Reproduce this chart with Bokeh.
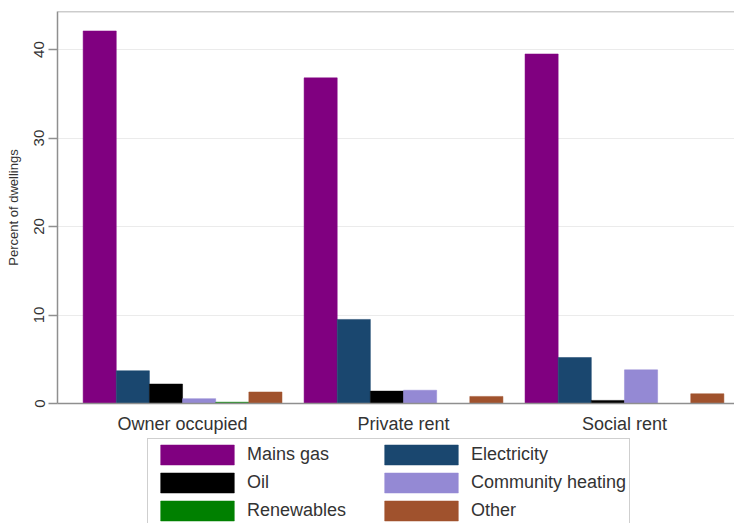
from bokeh.plotting import figure
from bokeh.layouts import column
from bokeh.models import (Range1d, FixedTicker, Legend, LegendItem, Span, ColumnDataSource)
from bokeh.embed import file_html
from bokeh.resources import INLINE

# ---- data ----
groups = ["Owner occupied", "Private rent", "Social rent"]
series = ["Mains gas", "Electricity", "Oil", "Community heating", "Renewables", "Other"]
mains_gas = [42.1, 36.8, 39.5]
electricity = [3.7, 9.5, 5.2]
oil = [2.2, 1.4, 0.35]
community_heating = [0.55, 1.5, 3.8]
renewables = [0.15, 0.0, 0.0]
other = [1.3, 0.8, 1.1]
values = [mains_gas, electricity, oil, community_heating, renewables, other]
colors = ["#800080", "#1a476f", "#000000", "#9489d4", "#008000", "#a0522d"]
y_ticks = [0, 10, 20, 30, 40]
# legend is filled column by column: left column first, then right column
legend_order = ["Mains gas", "Oil", "Renewables", "Electricity", "Community heating", "Other"]

FONT = "Liberation Sans"
Y_END = 44.3
W = 734

p = figure(width=W, height=436, output_backend="svg", toolbar_location=None,
           x_range=Range1d(-0.566, 2.498), y_range=Range1d(0, Y_END),
           min_border_left=57, min_border_right=0, min_border_top=11,
           min_border_bottom=33)
p.outline_line_color = None
p.background_fill_color = "white"
p.border_fill_color = "white"

bar_w = 0.15
xs = list(range(len(groups)))
for i, (name, vals, col) in enumerate(zip(series, values, colors)):
    off = (i - 2.5) * bar_w
    src = ColumnDataSource(dict(x=[x + off for x in xs], top=vals))
    p.vbar(x="x", top="top", width=bar_w, bottom=0, source=src,
           fill_color=col, line_color=col, line_width=0.5)

# top frame line
p.add_layout(Span(location=Y_END, dimension="width", line_color="#9a9a9a", line_width=1.5))

# x axis
xa = p.xaxis[0]
xa.ticker = FixedTicker(ticks=xs)
xa.major_label_overrides = {i: g for i, g in enumerate(groups)}
xa.major_tick_line_color = None
xa.minor_tick_line_color = None
xa.axis_line_color = "#8f8f8f"
xa.axis_line_width = 1.5
xa.major_label_text_font = FONT
xa.major_label_text_font_size = "18px"
xa.major_label_text_color = "#333333"
xa.major_label_standoff = 4

# y axis
ya = p.yaxis[0]
ya.ticker = FixedTicker(ticks=y_ticks)
ya.major_label_orientation = "vertical"
ya.minor_tick_line_color = None
ya.major_tick_out = 9
ya.major_tick_in = 0
ya.major_tick_line_color = "#8f8f8f"
ya.major_tick_line_width = 1.5
ya.axis_line_color = "#8f8f8f"
ya.axis_line_width = 1.5
ya.major_label_text_font = FONT
ya.major_label_text_font_size = "15px"
ya.major_label_text_color = "#333333"
ya.major_label_standoff = 4
ya.axis_label = "Percent of dwellings"
ya.axis_label_text_font = FONT
ya.axis_label_text_font_size = "13px"
ya.axis_label_text_font_style = "normal"
ya.axis_label_text_color = "#333333"
ya.axis_label_standoff = 11

p.xgrid.grid_line_color = None
p.ygrid.grid_line_color = "#ebebeb"
p.ygrid.grid_line_width = 1
p.ygrid.ticker = FixedTicker(ticks=y_ticks[1:])

# ---- legend panel ----
p2 = figure(width=W, height=87, output_backend="svg", toolbar_location=None,
            x_range=Range1d(0, 1), y_range=Range1d(0, 1),
            min_border_left=0, min_border_right=0, min_border_top=0, min_border_bottom=0)
p2.axis.visible = False
p2.grid.grid_line_color = None
p2.outline_line_color = None
p2.background_fill_color = "white"
p2.border_fill_color = "white"

leg_renderers = {}
for name, col in zip(series, colors):
    # placeholder bar outside the visible range, only used for the legend swatch
    leg_renderers[name] = p2.vbar(x=[-10], top=[0], width=0.1, fill_color=col, line_color=col,
                                  line_width=0.5)

legend = Legend(items=[LegendItem(label=n, renderers=[leg_renderers[n]]) for n in legend_order],
                ncols=2, orientation="vertical")
legend.location = (90, -4)
legend.glyph_width = 92
legend.glyph_height = 25
legend.label_standoff = 4
legend.spacing = 3
legend.padding = 3
legend.margin = 0
legend.label_width = 125
legend.label_text_font = FONT
legend.label_text_font_size = "18px"
legend.label_text_color = "#333333"
legend.border_line_color = "#a0a0a0"
legend.border_line_width = 1.5
legend.background_fill_color = "white"
p2.add_layout(legend, "center")

open("out.html", "w").write(file_html(column(p, p2, spacing=0), INLINE))
